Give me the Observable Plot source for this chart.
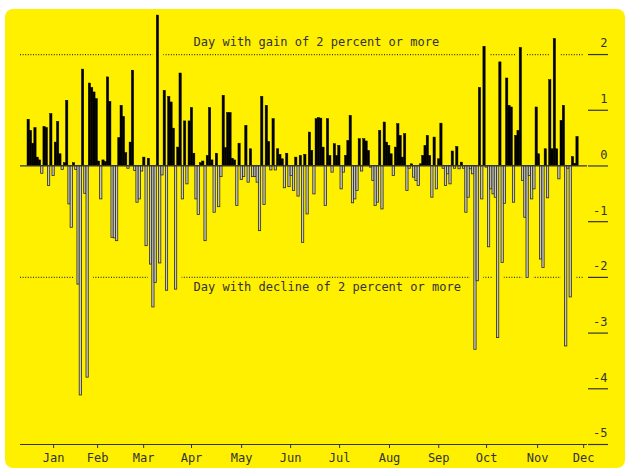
<!DOCTYPE html>
<html>
<head>
<meta charset="utf-8">
<script src="https://cdn.jsdelivr.net/npm/d3@7"></script>
<script src="https://cdn.jsdelivr.net/npm/@observablehq/plot@0.6"></script>
<style>
  html, body { margin: 0; padding: 0; background: #ffffff; }
  #wrap { position: relative; width: 631px; height: 471px; }
  #panel { position: absolute; left: 5px; top: 9px; width: 620px; height: 459px; background: #fff000; border-radius: 8px; }
  #chart { position: absolute; left: 0; top: 0; }
</style>
</head>
<body>
<div id="wrap"><div id="panel"></div><div id="chart"></div></div>
<script>
// Daily percent change, one value per trading day
const changes = [
  0.83, 0.63, 0.4, 0.68, 0.15, 0.1, -0.14, 0.7, 0.68, -0.36, 0.93, -0.18, 0.42, 0.79, 0.21, -0.07, 0.05, 1.17, -0.69, -1.11, 0.05, -0.07, -2.13, -4.12, 1.73, -0.5, -3.8, 1.48,
  1.4, 1.32, 1.2, 0.08, -0.6, 0.1, 0.07, 1.59, 1.15, -1.29, -1.3, -1.35, 0.5, 1.08, 0.88, 0.23, -0.05, 0.42, 1.71, -0.09, -0.66, -0.6, -0.1, 0.15, -1.44, 0.13, -1.77, -2.54, -2.1, 2.7,
  -1.75, -0.17, 1.35, -2.24, 1.24, 1.14, 0.67, -2.22, 0.33, 1.66, -0.6, 0.8, -0.33, 0.8, 1.04, 0.22, -0.6, -0.88, 0.05, 0.08, -1.35, 0.18, 1.04, 0.1, -0.84, 0.22, -0.74, -0.2, 1.26, 0.32, 0.95,
  0.95, 0.13, 0.1, -0.72, 0.4, -0.25, -0.2, 0.72, -0.3, 0.3, -0.2, -0.2, -0.3, -1.17, 1.24, -0.7, 1.08, 0.43, -0.08, 0.84, -0.08, 0.3, 0.2, 0.12, -0.4, 0.22, -0.38, -0.18, -0.45, 0.15, -0.55,
  0.18, -1.38, 0.2, -0.87, 0.6, 0.27, -0.51, 0.84, 0.86, 0.85, 0.33, -0.72, 0.84, 0.18, -0.12, 0.39, 0.18, 0.36, -0.42, -0.12, 0.18, 0.45, 0.9, -0.67, -0.6, -0.45, 0.48, -0.1, 0.48, 0.44,
  0.27, -0.03, -0.27, -0.72, -0.66, 0.63, -0.78, 0.78, 0.42, 0.36, 0.21, -0.18, 0.33, 0.75, 0.54, 0.15, 0.57, -0.45, -0.05, 0.03, -0.21, -0.27, -0.36, 0.03, 0.18, 0.36, 0.54, 0.18, -0.57, 0.51,
  -0.42, 0.12, 0.76, -0.05, -0.36, -0.15, -0.33, 0.26, -0.05, 0.34, -0.06, 0.06, -0.05, -0.84, -0.57, -0.06, -0.15, -3.3, -2.07, 1.4, -0.6, 2.14, -0.03, -1.46, -0.42, -0.51, -0.57, -3.09, 1.86, -1.74, -0.68, 1.57,
  1.08, 1.05, -0.66, 0.54, 0.63, 2.12, -0.27, -0.93, -2.01, -0.18, -0.6, -0.42, 1.05, 0.21, -1.68, -1.83, 0.3, -0.58, 1.54, 0.3, 2.28, 0.3, -0.24, 0.81, 1.08, -3.24, -0.05, -2.36, 0.16, 0.04, 0.52
];

// Month tick positions (in trading-day units, mid-month) and labels
const monthTicks = [11.5, 30.9, 51.2, 72.3, 94.4, 116.0, 137.6, 159.6, 181.3, 202.4, 224.9, 245.2];
const monthLabels = ["Jan", "Feb", "Mar", "Apr", "May", "Jun", "Jul", "Aug", "Sep", "Oct", "Nov", "Dec"];

// Y ticks
const yTicks = [2, 1, 0, -1, -2, -3, -4, -5];

// Threshold annotations
const thresholds = [2, -2];
const thresholdLabels = ["Day with gain of 2 percent or more", "Day with decline of 2 percent or more"];
const labelStart = 73.2;

const days = changes.map((v, i) => ({i, v}));
const big = days.filter(d => Math.abs(d.v) > 2);

const ink = "#333";
const yellow = "#fff000";

const chart = Plot.plot({
  width: 631,
  height: 471,
  marginLeft: 20,
  marginRight: 44,
  marginTop: 9.5,
  marginBottom: 27,
  style: {fontFamily: "'DejaVu Sans Mono', monospace", fontSize: "12px", color: ink, background: "transparent", overflow: "visible"},
  x: {domain: [-3.1, 246.9], axis: null},
  y: {domain: [-5, 2.8], axis: null},
  marks: [
    // dotted threshold lines
    Plot.ruleY(thresholds, {stroke: ink, strokeWidth: 1.3, strokeDasharray: "1,1.6", insetRight: 4}),
    // gaps in the dotted lines where big bars cross them
    Plot.ruleX(big, {x: d => d.i + 0.5, y1: d => Math.sign(d.v) * 1.93, y2: d => Math.sign(d.v) * 2.07, stroke: yellow, strokeWidth: 11}),
    // bars
    Plot.rectY(days.filter(d => d.v >= 0), {x1: d => d.i, x2: d => d.i + 1, y1: 0, y2: d => d.v, fill: "#000", stroke: "#000", strokeWidth: 0.5}),
    Plot.rectY(days.filter(d => d.v < 0), {x1: d => d.i, x2: d => d.i + 1, y1: 0, y2: d => d.v, fill: "#c9c9bd", stroke: "#2a2a20", strokeWidth: 0.8}),
    // zero line and base line
    Plot.ruleY([0, -5], {stroke: ink, strokeWidth: 1.2}),
    // right-hand y ticks and labels
    Plot.axisY(yTicks, {anchor: "right", tickSize: 20, text: null, stroke: ink, strokeWidth: 1.2}),
    Plot.text(yTicks, {y: d => d, frameAnchor: "right", dx: 20, dy: -11, textAnchor: "end", text: d => String(d), fill: ink, fontSize: 12}),
    // gain / decline labels
    Plot.text([thresholds[0]], {x: labelStart, y: d => d, dy: -12, textAnchor: "start", text: [thresholdLabels[0]], fill: ink, fontSize: 12}),
    Plot.text([thresholds[1]], {x: labelStart, y: d => d, dy: 10, textAnchor: "start", text: [thresholdLabels[1]], fill: ink, fontSize: 12}),
    // month axis
    Plot.axisX(monthTicks, {anchor: "bottom", tickSize: 4, tickPadding: 5, tickFormat: d => monthLabels[monthTicks.indexOf(d)], stroke: ink, fill: ink, fontSize: 12})
  ]
});
document.getElementById("chart").appendChild(chart);
</script>
</body>
</html>
